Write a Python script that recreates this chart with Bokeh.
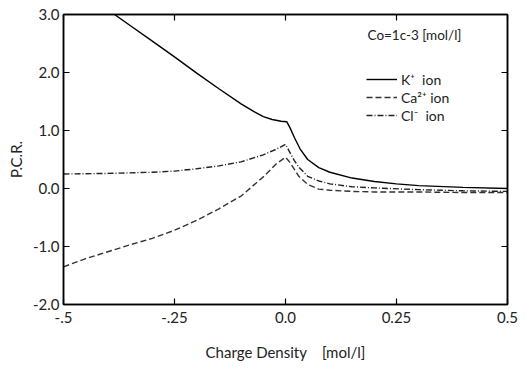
from bokeh.plotting import figure
from bokeh.models import (Range1d, LinearAxis, FixedTicker, Legend, LegendItem, Label,
                          CustomLabelingPolicy)
from bokeh.embed import file_html
from bokeh.resources import INLINE

# ---- data ----
k_x = [-0.385, -0.35, -0.3, -0.25, -0.2, -0.15, -0.1, -0.07, -0.05, -0.03, -0.01, 0.003,
       0.01, 0.02, 0.033, 0.05, 0.075, 0.1, 0.15, 0.2, 0.25, 0.3, 0.4, 0.5]
k_y = [3.0, 2.81, 2.54, 2.27, 1.99, 1.72, 1.46, 1.32, 1.24, 1.19, 1.16, 1.15,
       1.05, 0.88, 0.68, 0.50, 0.36, 0.28, 0.18, 0.12, 0.08, 0.05, 0.02, 0.0]

ca_x = [-0.5, -0.45, -0.4, -0.35, -0.3, -0.25, -0.2, -0.15, -0.1, -0.05, -0.02, 0.0,
        0.01, 0.02, 0.03, 0.05, 0.075, 0.1, 0.15, 0.2, 0.3, 0.4, 0.5]
ca_y = [-1.35, -1.21, -1.09, -0.97, -0.86, -0.72, -0.55, -0.35, -0.13, 0.20, 0.43, 0.54,
        0.45, 0.33, 0.21, 0.07, -0.01, -0.03, -0.05, -0.06, -0.06, -0.07, -0.07]

cl_x = [-0.5, -0.4, -0.3, -0.25, -0.2, -0.15, -0.1, -0.05, -0.02, 0.0,
        0.01, 0.02, 0.03, 0.05, 0.075, 0.1, 0.15, 0.2, 0.3, 0.4, 0.5]
cl_y = [0.25, 0.26, 0.28, 0.30, 0.34, 0.39, 0.46, 0.58, 0.68, 0.76,
        0.62, 0.48, 0.37, 0.21, 0.13, 0.08, 0.03, 0.01, -0.02, -0.04, -0.05]

x_ticks = [-0.5, -0.25, 0.0, 0.25, 0.5]
x_tick_labels = ["-.5", "-.25", "0.0", "0.25", "0.5"]
y_ticks = [-2, -1, 0, 1, 2, 3]
y_tick_labels = ["-2.0", "-1.0", "0.0", "1.0", "2.0", "3.0"]

series_labels = ["K\u207a  ion", "Ca\u00b2\u207a ion", "Cl\u207b  ion"]
note_text = "Co=1c-3 [mol/l]"
x_title = "Charge Density\u00a0\u00a0\u00a0\u00a0[mol/l]"
y_title = "P.C.R."

FONT = "Lato"
INK = "#222222"

p = figure(width=523, height=363, output_backend="svg", toolbar_location=None,
           x_range=Range1d(-0.5, 0.5), y_range=Range1d(-2, 3),
           min_border_left=63, min_border_right=12, min_border_top=14, min_border_bottom=57,
           x_axis_label=x_title, y_axis_label=y_title)
p.grid.visible = False
p.background_fill_color = "white"
p.border_fill_color = "white"
p.outline_line_color = "black"
p.outline_line_width = 1.5

r_k = p.line(k_x, k_y, line_color="black", line_width=1.4)
r_ca = p.line(ca_x, ca_y, line_color="#333333", line_width=1.4, line_dash="6 3")
r_cl = p.line(cl_x, cl_y, line_color="#222222", line_width=1.4, line_dash="6 2 1 2")

hide_all = CustomLabelingPolicy(code="""
for (const i of Array.from(indices)) { indices.unset(i) }
return indices
""")

def style_axis(ax, labels=True):
    ax.axis_line_color = "black"
    ax.axis_line_width = 1.5
    ax.major_tick_in = 6
    ax.major_tick_out = 0
    ax.minor_tick_in = 0
    ax.minor_tick_out = 0
    ax.major_tick_line_color = "black"
    ax.major_tick_line_width = 1.2
    if labels:
        ax.major_label_text_font = FONT
        ax.major_label_text_font_size = "15px"
        ax.major_label_text_color = INK
        ax.axis_label_text_font = FONT
        ax.axis_label_text_font_style = "normal"
        ax.axis_label_text_font_size = "15px"
        ax.axis_label_text_color = INK
    else:
        ax.major_label_policy = hide_all
        ax.major_label_standoff = 0

xb = p.xaxis[0]
xb.ticker = FixedTicker(ticks=x_ticks)
xb.major_label_overrides = {t: l for t, l in zip(x_ticks, x_tick_labels)}
style_axis(xb)
xb.major_label_standoff = 7
xb.axis_label_standoff = 17

yl = p.yaxis[0]
yl.ticker = FixedTicker(ticks=y_ticks)
yl.major_label_overrides = {t: l for t, l in zip(y_ticks, y_tick_labels)}
style_axis(yl)
yl.major_label_standoff = 4
yl.axis_label_standoff = 5

xt = LinearAxis(ticker=FixedTicker(ticks=x_ticks))
style_axis(xt, labels=False)
p.add_layout(xt, "above")
yr = LinearAxis(ticker=FixedTicker(ticks=y_ticks))
style_axis(yr, labels=False)
p.add_layout(yr, "right")

legend = Legend(items=[LegendItem(label=series_labels[0], renderers=[r_k]),
                       LegendItem(label=series_labels[1], renderers=[r_ca]),
                       LegendItem(label=series_labels[2], renderers=[r_cl])],
                location=(303, 180))
legend.border_line_color = None
legend.background_fill_alpha = 0
legend.padding = 0
legend.margin = 0
legend.spacing = 0
legend.glyph_width = 31
legend.glyph_height = 18
legend.label_height = 18
legend.label_standoff = 4
legend.label_text_font = FONT
legend.label_text_font_size = "14px"
legend.label_text_color = INK
p.add_layout(legend, "center")

note = Label(x=304, y=270, x_units="screen", y_units="screen", text=note_text,
             text_font=FONT, text_font_size="13.5px", text_color=INK,
             text_baseline="middle")
p.add_layout(note)

open("out.html", "w").write(file_html(p, INLINE))
